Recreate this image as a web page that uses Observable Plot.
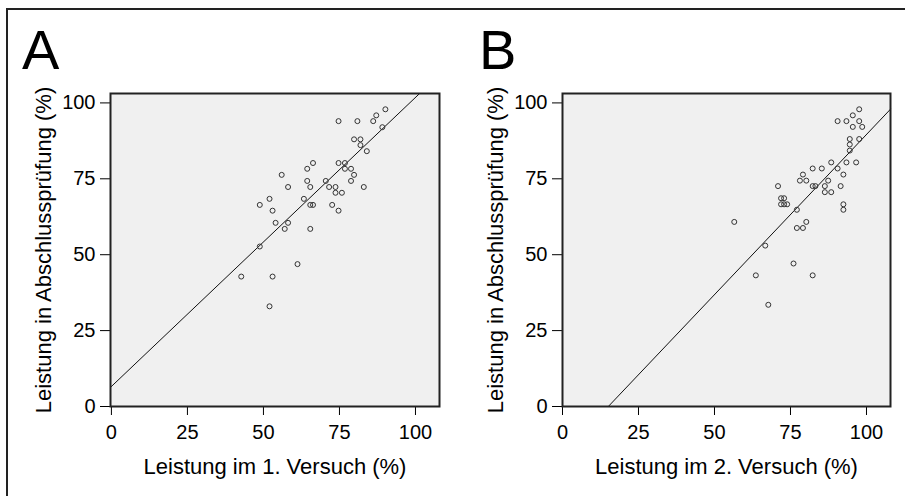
<!DOCTYPE html>
<html>
<head>
<meta charset="utf-8">
<script src="https://cdn.jsdelivr.net/npm/d3@7"></script>
<script src="https://cdn.jsdelivr.net/npm/@observablehq/plot@0.6"></script>
<style>
  html, body { margin: 0; padding: 0; background: #fff; }
  #wrap { position: relative; width: 905px; height: 496px; overflow: hidden; font-family: "Liberation Sans", Arial, sans-serif; }
  .panel { position: absolute; top: 0; }
  .letter { position: absolute; font-size: 56px; line-height: 56px; color: #000; }
  .bline { position: absolute; background: #222; }
</style>
</head>
<body>
<div id="wrap">
  <div class="bline" style="left:6px; top:8px; width:899px; height:2px;"></div>
  <div class="bline" style="left:6px; top:8px; width:2px; height:488px;"></div>
  <div class="letter" style="left:22px; top:22px;">A</div>
  <div class="letter" style="left:479px; top:22px;">B</div>
  <div class="panel" id="pA" style="left:0px;"></div>
  <div class="panel" id="pB" style="left:452px;"></div>
</div>
<script>
// Panel A: 1. Versuch vs Abschlussprüfung
const xA = [90.1, 87.1, 86.1, 74.7, 80.9, 89.1, 79.8, 81.9, 81.9, 84.0,
            66.3, 74.7, 76.8, 64.4, 76.8, 78.8, 56.0, 79.8, 64.4, 70.5,
            78.8, 58.1, 65.4, 71.6, 73.7, 83.0, 73.7, 75.8, 52.0, 63.3,
            48.8, 65.4, 66.3, 72.6, 53.0, 74.7, 54.0, 58.1, 57.0, 65.4,
            48.8, 61.2, 42.7, 53.0, 52.0];
const yA = [97.9, 95.9, 94.0, 94.0, 94.0, 92.0, 88.0, 88.0, 86.1, 84.1,
            80.2, 80.2, 80.2, 78.3, 78.3, 78.3, 76.3, 76.3, 74.3, 74.3,
            74.3, 72.3, 72.3, 72.3, 72.3, 72.3, 70.4, 70.4, 68.4, 68.4,
            66.4, 66.4, 66.4, 66.4, 64.5, 64.5, 60.5, 60.5, 58.5, 58.5,
            52.7, 46.9, 42.8, 42.8, 33.0];
// Panel B: 2. Versuch vs Abschlussprüfung
const xB = [97.6, 95.5, 90.5, 93.4, 97.6, 95.5, 98.6, 94.5, 97.6, 94.5,
            94.5, 88.4, 93.4, 96.6, 82.3, 85.3, 90.5, 79.1, 92.4, 78.1,
            80.2, 87.4, 70.9, 82.3, 83.2, 86.3, 91.5, 86.3, 88.4, 71.9,
            72.9, 71.9, 72.9, 73.9, 92.4, 77.1, 92.4, 56.5, 80.2, 77.1,
            79.1, 66.7, 76.0, 63.6, 82.3, 67.7];
const yB = [97.9, 95.9, 94.0, 94.0, 94.0, 92.1, 92.1, 88.1, 88.1, 86.3,
            84.3, 80.4, 80.4, 80.4, 78.4, 78.4, 78.4, 76.4, 76.4, 74.4,
            74.4, 74.4, 72.6, 72.6, 72.6, 72.6, 72.6, 70.6, 70.6, 68.6,
            68.6, 66.6, 66.6, 66.6, 66.6, 64.8, 64.8, 60.8, 60.8, 58.8,
            58.8, 53.0, 47.1, 43.2, 43.2, 33.5];
// Regression lines: [intercept, slope]
const fitA = [6.6, 0.952];
const fitB = [-15.9, 1.055];
const tickVals = [0, 25, 50, 75, 100];
const xLabelA = "Leistung im 1. Versuch (%)";
const xLabelB = "Leistung im 2. Versuch (%)";
const yLabel = "Leistung in Abschlussprüfung (%)";

function panel({xs, ys, fit, xDomain, yDomain, xlabel, width, marginLeft, marginRight}) {
  const data = xs.map((v, i) => ({x: v, y: ys[i]}));
  const [a, b] = fit;
  const x0 = Math.max(xDomain[0], (yDomain[0] - a) / b);
  const x1 = Math.min(xDomain[1], (yDomain[1] - a) / b);
  const lineData = [x0, x1].map(v => ({x: v, y: a + b * v}));
  return Plot.plot({
    width, height: 496,
    marginLeft, marginRight, marginTop: 93, marginBottom: 90,
    style: {fontFamily: '"Liberation Sans", Arial, sans-serif', fontSize: "20px", color: "#000", background: "transparent", overflow: "visible"},
    x: {domain: xDomain, ticks: tickVals, tickSize: 9, tickPadding: 9, label: null, tickFormat: d => String(d)},
    y: {domain: yDomain, ticks: tickVals, tickSize: 10, tickPadding: 5, label: null, tickFormat: d => String(d)},
    marks: [
      Plot.frame({fill: "#f0f0f0"}),
      Plot.line(lineData, {x: "x", y: "y", stroke: "#111", strokeWidth: 1}),
      Plot.dot(data, {x: "x", y: "y", r: 2.5, stroke: "#333", strokeWidth: 1, fill: "none"}),
      Plot.frame({stroke: "#222", strokeWidth: 2}),
      Plot.text([xlabel], {text: d => d, frameAnchor: "bottom", dy: 60, textAnchor: "middle", lineAnchor: "middle", fontSize: 22, fill: "#000"}),
      Plot.text([yLabel], {text: d => d, frameAnchor: "left", dx: -67, rotate: -90, textAnchor: "middle", lineAnchor: "middle", fontSize: 22, fill: "#000"})
    ]
  });
}

document.getElementById("pA").append(panel({
  xs: xA, ys: yA, fit: fitA, xDomain: [-0.3, 107.9], yDomain: [0, 103.1],
  xlabel: xLabelA, width: 450, marginLeft: 110, marginRight: 11
}));
document.getElementById("pB").append(panel({
  xs: xB, ys: yB, fit: fitB, xDomain: [0, 107.9], yDomain: [0, 103.1],
  xlabel: xLabelB, width: 453, marginLeft: 110, marginRight: 15
}));
</script>
</body>
</html>
